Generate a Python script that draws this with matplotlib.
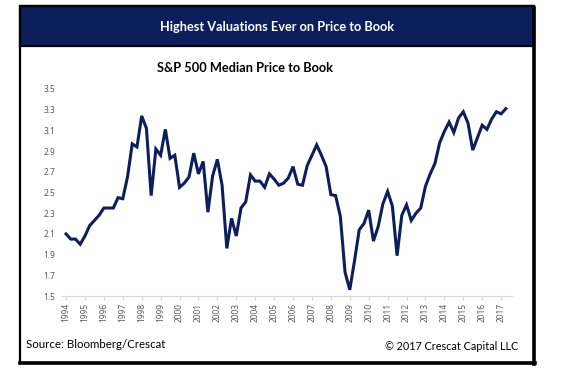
import matplotlib
matplotlib.use('Agg')
import matplotlib.pyplot as plt
from matplotlib.patches import Rectangle
from matplotlib.lines import Line2D

# quarterly S&P 500 median price to book, 1994 Q1 .. 2017 Q2
years = list(range(1994, 2018))
ptb = [2.10, 2.05, 2.05, 2.00,
       2.08, 2.18, 2.23, 2.28,
       2.35, 2.35, 2.35, 2.45,
       2.44, 2.65, 2.97, 2.94,
       3.24, 3.12, 2.47, 2.92,
       2.86, 3.11, 2.83, 2.86,
       2.55, 2.59, 2.65, 2.88,
       2.68, 2.80, 2.31, 2.66,
       2.82, 2.57, 1.96, 2.25,
       2.08, 2.35, 2.41, 2.67,
       2.61, 2.61, 2.55, 2.68,
       2.63, 2.57, 2.59, 2.64,
       2.75, 2.58, 2.57, 2.76,
       2.86, 2.96, 2.86, 2.75,
       2.48, 2.47, 2.27, 1.73,
       1.56, 1.84, 2.14, 2.20,
       2.33, 2.03, 2.17, 2.39,
       2.51, 2.37, 1.89, 2.28,
       2.38, 2.23, 2.30, 2.35,
       2.56, 2.68, 2.78, 2.98,
       3.09, 3.18, 3.08, 3.22,
       3.28, 3.17, 2.91, 3.03,
       3.15, 3.11, 3.21, 3.28,
       3.26, 3.31]
yticks = [1.5, 1.7, 1.9, 2.1, 2.3, 2.5, 2.7, 2.9, 3.1, 3.3, 3.5]

navy = '#0c1f5c'
grey = '#595959'
plt.rcParams['font.family'] = ['Lato', 'DejaVu Sans']

W, H = 574, 374
fig = plt.figure(figsize=(W / 100, H / 100), dpi=100)

def fx(px):
    return px / W

def fy(py):
    return 1 - py / H

# frame and header band
fig.patches.append(Rectangle((fx(20), fy(363)), fx(534) - fx(20), fy(6) - fy(363),
                             transform=fig.transFigure, fc='none', ec='black', lw=1.6, zorder=3))
fig.patches.append(Rectangle((fx(20), fy(46)), fx(534) - fx(20), fy(6) - fy(46),
                             transform=fig.transFigure, fc=navy, ec='black', lw=1.6, zorder=1))
fig.lines.append(Line2D([fx(534), fx(534)], [fy(8), fy(364)], transform=fig.transFigure,
                        color='black', lw=2.6))
fig.lines.append(Line2D([fx(20), fx(535)], [fy(363), fy(363)], transform=fig.transFigure,
                        color='black', lw=2.6))

fig.text(fx(277), fy(27), 'Highest Valuations Ever on Price to Book', color='white',
         fontsize=9.2, fontweight='bold', ha='center', va='center')
fig.text(fx(245), fy(68), 'S&P 500 Median Price to Book', color='black',
         fontsize=9.2, fontweight='bold', ha='center', va='center')
fig.text(fx(26), fy(345), 'Source: Bloomberg/Crescat', color='black',
         fontsize=8.3, ha='left', va='center')
fig.text(fx(518), fy(346), '\u00a9 2017 Crescat Capital LLC', color='black',
         fontsize=7.8, ha='right', va='center')

ax = fig.add_axes([fx(62), fy(296), fx(512) - fx(62), fy(89) - fy(296)])
ax.patch.set_alpha(0)
x = list(range(len(ptb)))
ax.plot(x, ptb, color=navy, lw=2.2, solid_joinstyle='miter')
ax.set_ylim(1.5, 3.5)
ax.set_xlim(-0.85, 94.3)
ax.set_yticks(yticks)
ax.set_yticklabels([f'{v:.1f}' for v in yticks], family='Noto Sans')
ax.set_xticks([4 * i for i in range(len(years))])
ax.set_xticklabels([str(y) for y in years], rotation=90, family='Noto Sans')
for s in ['top', 'right', 'left']:
    ax.spines[s].set_visible(False)
ax.spines['bottom'].set_color('#d9d9d9')
ax.spines['bottom'].set_linewidth(0.8)
ax.tick_params(axis='y', length=0, labelsize=6, labelcolor=grey, pad=5)
ax.tick_params(axis='x', length=3, color='#d9d9d9', labelsize=6, labelcolor=grey, pad=2)

fig.savefig('out.png', dpi=100)
